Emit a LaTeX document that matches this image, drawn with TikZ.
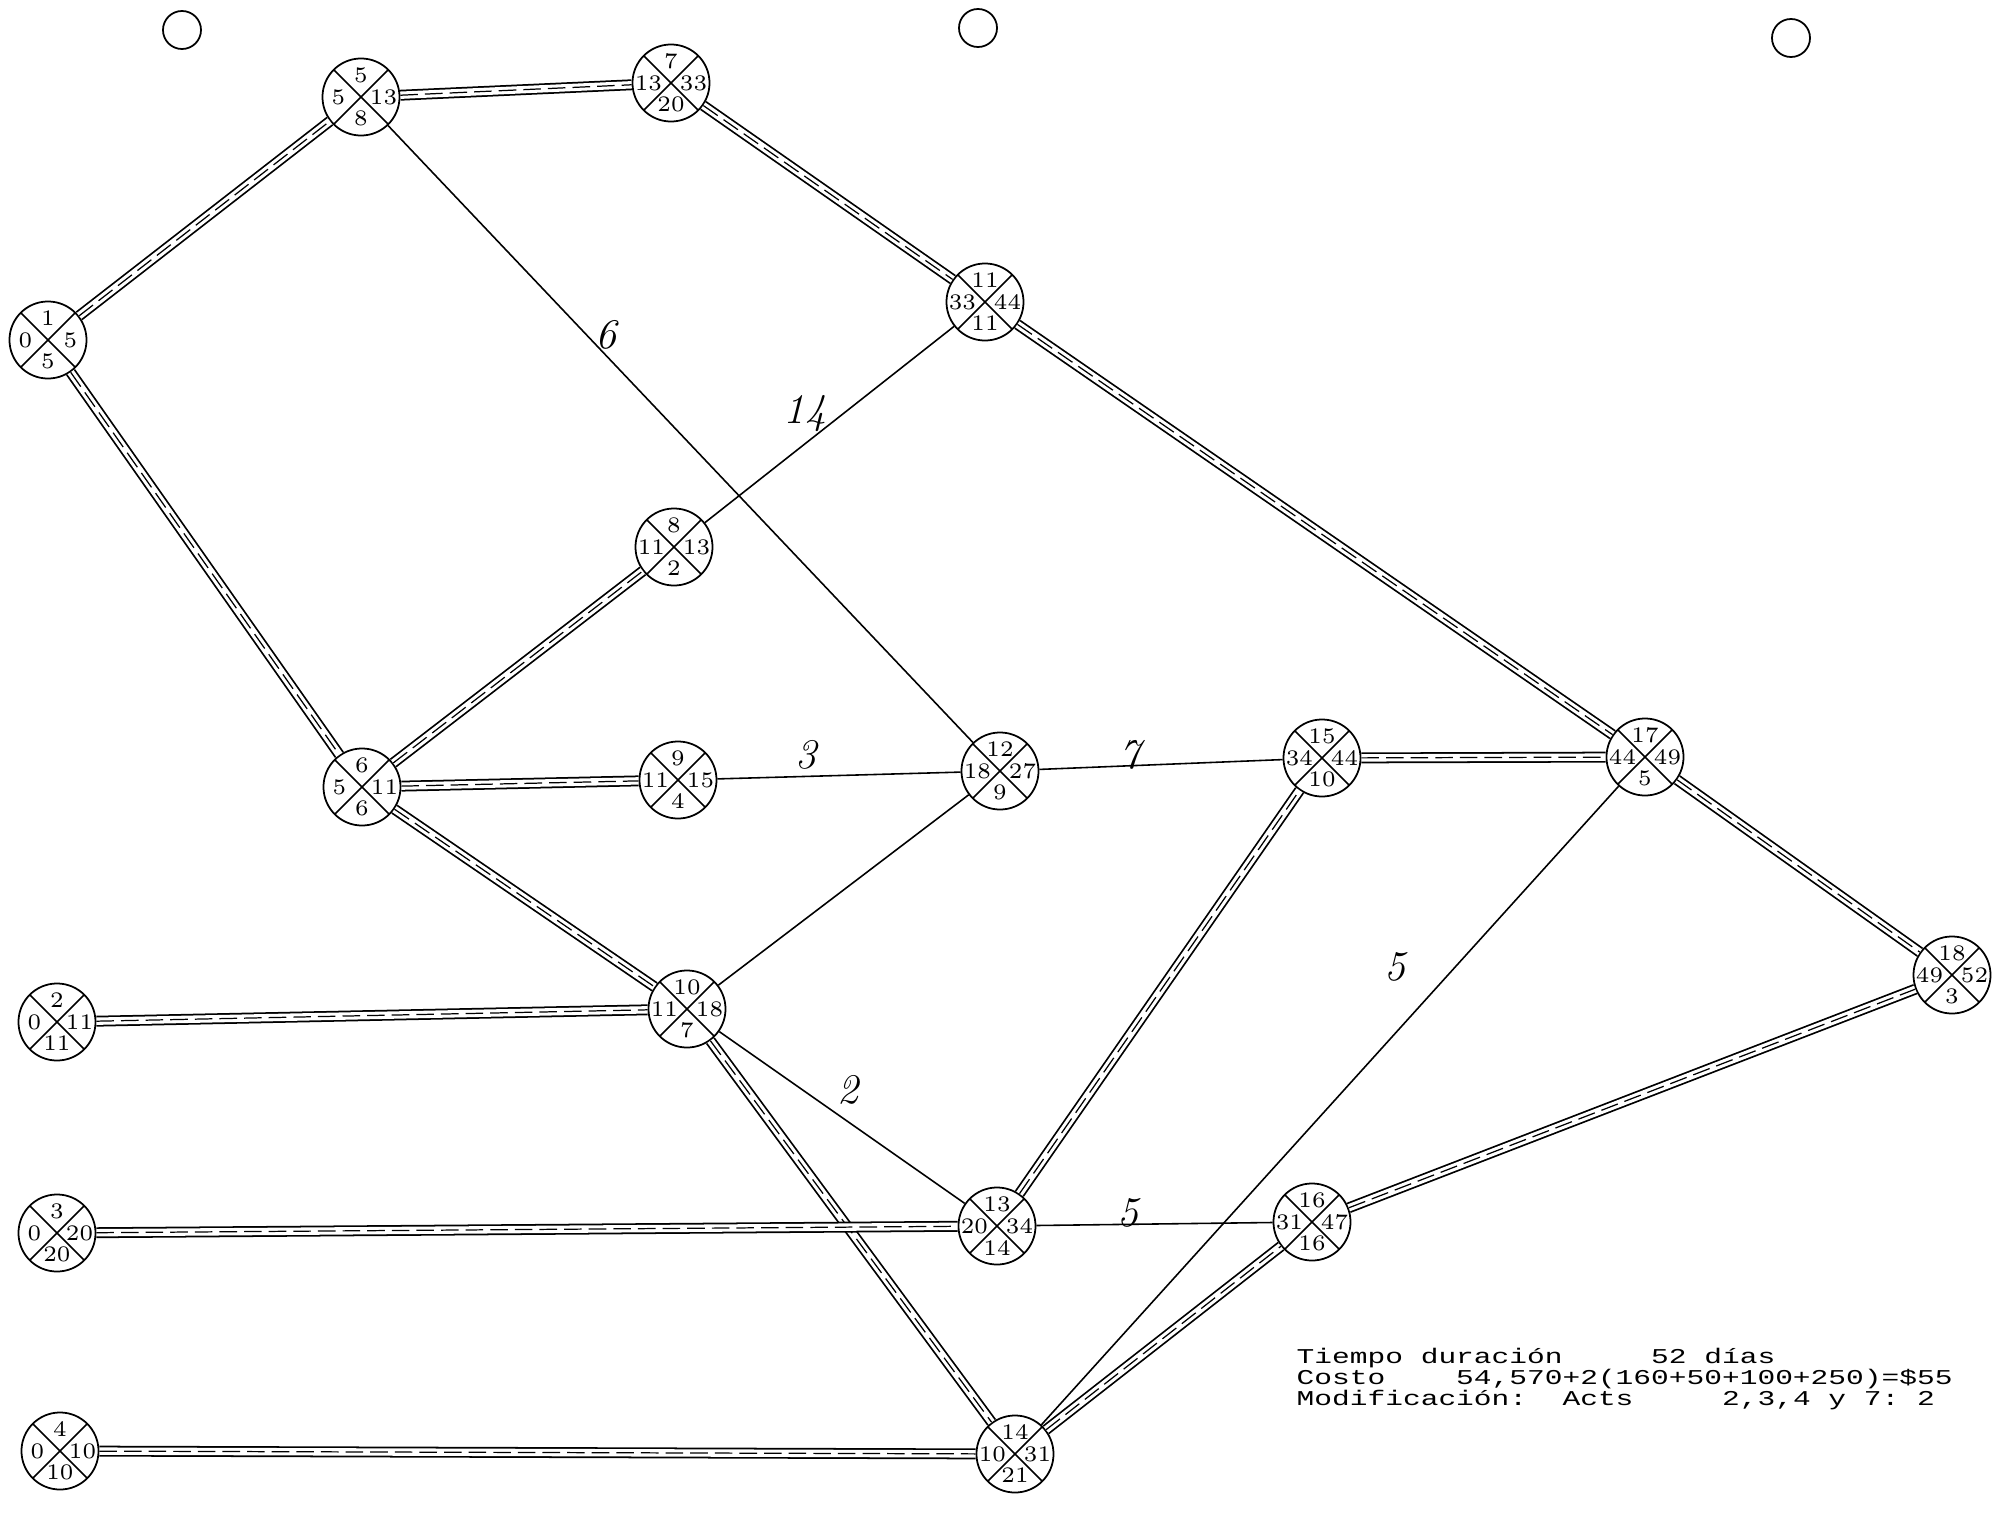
\documentclass[tikz,border=0pt]{standalone}
\usepackage{graphicx}
\usepackage{fontspec}
\newfontfamily\monof{Liberation Mono}
\tikzset{
  ev/.style={circle, draw, line width=0.5pt, minimum size=0.77cm, inner sep=0pt,
    path picture={\draw[line width=0.45pt]
      (path picture bounding box.north west) -- (path picture bounding box.south east)
      (path picture bounding box.north east) -- (path picture bounding box.south west);}},
  num/.style={inner sep=0pt, font=\fontsize{6.3}{6.3}\selectfont},
  critA/.style={line width=0.5pt, double distance=2.1pt},
  critB/.style={line width=0.35pt, dash pattern=on 5pt off 2pt},
  single/.style={line width=0.45pt},
  lab/.style={inner sep=1pt, font=\itshape\fontsize{12}{12}\selectfont},
  hole/.style={circle, draw, line width=0.5pt, minimum size=0.38cm, inner sep=0pt},
  txt/.style={anchor=base west, inner sep=0pt, font=\monof\fontsize{6}{6}\selectfont}
}
\newcommand\evnode[7]{%
  \node[ev] (#1) at (#2,#3) {};
  \node[num] at ([yshift=0.215cm]#1) {#4};
  \node[num] at ([xshift=-0.225cm]#1) {#5};
  \node[num] at ([xshift=0.225cm]#1) {#6};
  \node[num] at ([yshift=-0.215cm]#1) {#7};
}
\newcommand\crit[2]{\draw[critA] (#1) -- (#2); \draw[critB] (#1) -- (#2);}
\newcommand\wide[1]{\scalebox{1.4}[1]{#1}}
\begin{document}
\begin{tikzpicture}[x=0.01cm, y=-0.01cm]
\useasboundingbox (0,0) rectangle (1996,1515);
% punch holes
\node[hole] (h1) at (182,30) {};
\node[hole] (h2) at (978,28) {};
\node[hole] (h3) at (1791,38) {};
% events
\evnode{A}{48}{340}{1}{0}{5}{5}
\evnode{B}{361}{97}{5}{5}{13}{8}
\evnode{C}{671}{83}{7}{13}{33}{20}
\evnode{D}{985}{302}{11}{33}{44}{11}
\evnode{E}{674}{547}{8}{11}{13}{2}
\evnode{F}{362}{787}{6}{5}{11}{6}
\evnode{G}{678}{780}{9}{11}{15}{4}
\evnode{H}{1000}{771}{12}{18}{27}{9}
\evnode{I}{1322}{758}{15}{34}{44}{10}
\evnode{J}{1645}{757}{17}{44}{49}{5}
\evnode{K}{1952}{975}{18}{49}{52}{3}
\evnode{L}{57}{1022}{2}{0}{11}{11}
\evnode{M}{687}{1009}{10}{11}{18}{7}
\evnode{N}{997}{1226}{13}{20}{34}{14}
\evnode{O}{1312}{1222}{16}{31}{47}{16}
\evnode{P}{57}{1233}{3}{0}{20}{20}
\evnode{Q}{1015}{1454}{14}{10}{31}{21}
\evnode{R}{60}{1451}{4}{0}{10}{10}
% critical / multi-line connectors
\crit{A}{B}
\crit{B}{C}
\crit{C}{D}
\crit{D}{J}
\crit{J}{K}
\crit{A}{F}
\crit{F}{E}
\crit{F}{G}
\crit{F}{M}
\crit{L}{M}
\crit{M}{Q}
\crit{N}{I}
\crit{I}{J}
\crit{P}{N}
\crit{R}{Q}
\crit{Q}{O}
\crit{O}{K}
% single connectors
\draw[single] (E) -- (D);
\draw[single] (B) -- (H);
\draw[single] (G) -- (H);
\draw[single] (H) -- (I);
\draw[single] (M) -- (H);
\draw[single] (M) -- (N);
\draw[single] (N) -- (O);
\draw[single] (Q) -- (J);
% labels
\node[lab] (l6) at (606,335) {6};
\node[lab] (l14) at (805,414) {14};
\node[lab] (l3) at (806,755) {3};
\node[lab] (l7) at (1130,755) {7};
\node[lab] (l2) at (848,1090) {2};
\node[lab] (l5a) at (1128,1213) {5};
\node[lab] (l5b) at (1395,967) {5};
% text block
\node[txt] (t1) at (1296,1363) {\wide{Tiempo\ duración\ \ \ \ \ 52\ días}};
\node[txt] (t2) at (1296,1384) {\wide{Costo\ \ \ \ 54,570+2(160+50+100+250)=\$55}};
\node[txt] (t3) at (1296,1405) {\wide{Modificación:\ \ Acts\ \ \ \ \ 2,3,4\ y\ 7:\ 2}};
\end{tikzpicture}
\end{document}
